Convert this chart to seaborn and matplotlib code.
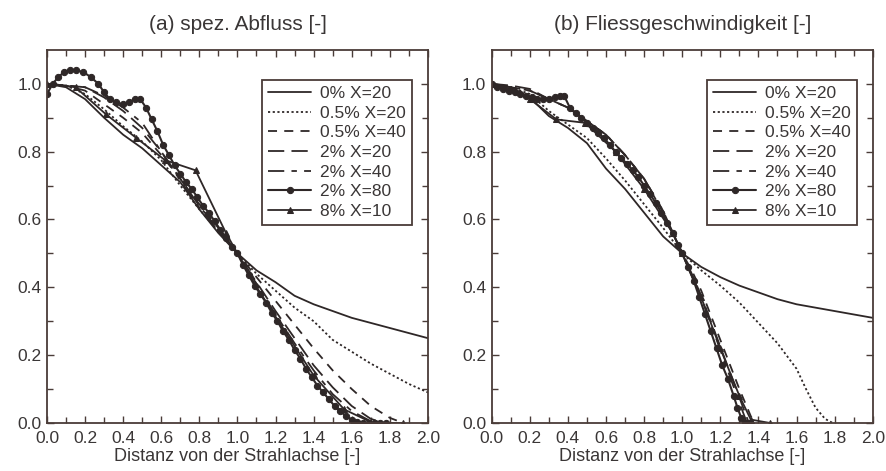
import matplotlib
matplotlib.use("Agg")
import matplotlib.pyplot as plt
import seaborn as sns
import numpy as np

sns.set_style("ticks")
plt.rcParams['font.family'] = ['Liberation Sans', 'DejaVu Sans']

labels = ["0% X=20", "0.5% X=20", "0.5% X=40", "2% X=20", "2% X=40", "2% X=80", "8% X=10"]
titles = ["(a) spez. Abfluss [-]", "(b) Fliessgeschwindigkeit [-]"]
xlabel = "Distanz von der Strahlachse [-]"
xticks = [0.0, 0.2, 0.4, 0.6, 0.8, 1.0, 1.2, 1.4, 1.6, 1.8, 2.0]
yticks = [0.0, 0.2, 0.4, 0.6, 0.8, 1.0]

# ---------------- panel (a) ----------------
a_s0_x = [0.0, 0.1, 0.2, 0.3, 0.4, 0.5, 0.6, 0.7, 0.8, 0.9, 1.0, 1.1, 1.2, 1.3, 1.4, 1.5, 1.6, 1.7, 1.8, 1.9, 2.0]
a_s0_y = [1.0, 0.99, 0.955, 0.9, 0.85, 0.81, 0.76, 0.71, 0.63, 0.56, 0.5, 0.45, 0.415, 0.375, 0.35, 0.33, 0.31, 0.295, 0.28, 0.265, 0.25]
a_s1_x = [0.0, 0.1, 0.2, 0.3, 0.4, 0.5, 0.6, 0.7, 0.8, 0.9, 1.0, 1.1, 1.2, 1.3, 1.4, 1.5, 1.6, 1.7, 1.8, 1.9, 2.0]
a_s1_y = [1.0, 0.995, 0.97, 0.925, 0.875, 0.83, 0.775, 0.7, 0.63, 0.565, 0.5, 0.44, 0.39, 0.34, 0.3, 0.245, 0.21, 0.175, 0.145, 0.115, 0.09]
a_s2_x = [0.0, 0.1, 0.2, 0.3, 0.4, 0.5, 0.6, 0.7, 0.8, 0.9, 1.0, 1.1, 1.2, 1.3, 1.4, 1.5, 1.6, 1.7, 1.8, 1.87]
a_s2_y = [1.0, 0.995, 0.98, 0.94, 0.9, 0.855, 0.79, 0.72, 0.645, 0.575, 0.5, 0.43, 0.36, 0.29, 0.22, 0.155, 0.1, 0.05, 0.015, 0.0]
a_s3_x = [0.0, 0.1, 0.2, 0.3, 0.4, 0.5, 0.6, 0.7, 0.8, 0.9, 1.0, 1.1, 1.2, 1.3, 1.4, 1.5, 1.6, 1.7, 1.77]
a_s3_y = [1.0, 0.995, 0.99, 0.96, 0.92, 0.87, 0.8, 0.72, 0.64, 0.57, 0.5, 0.415, 0.33, 0.25, 0.17, 0.105, 0.05, 0.012, 0.0]
a_s4_x = [0.0, 0.1, 0.2, 0.3, 0.4, 0.5, 0.6, 0.7, 0.8, 0.9, 1.0, 1.1, 1.2, 1.3, 1.4, 1.5, 1.6, 1.7, 1.74]
a_s4_y = [1.0, 0.995, 0.99, 0.965, 0.93, 0.885, 0.8, 0.715, 0.635, 0.565, 0.5, 0.41, 0.32, 0.235, 0.155, 0.085, 0.035, 0.005, 0.0]
a_s5_x = [0.0, 0.03, 0.06, 0.09, 0.12, 0.15, 0.19, 0.23, 0.27, 0.30, 0.33, 0.36, 0.40, 0.43, 0.46, 0.49, 0.52, 0.55, 0.58, 0.61,
          0.64, 0.67, 0.70, 0.73, 0.76, 0.79, 0.82, 0.85, 0.88, 0.91, 0.94, 0.97, 1.0, 1.03, 1.06, 1.09, 1.12, 1.15, 1.18, 1.21,
          1.24, 1.27, 1.30, 1.33, 1.36, 1.39, 1.42, 1.45, 1.48, 1.51, 1.54, 1.57, 1.60, 1.63, 1.66, 1.69, 1.72, 1.75, 1.78]
a_s5_y = [0.97, 1.0, 1.02, 1.035, 1.04, 1.04, 1.035, 1.02, 1.0, 0.975, 0.955, 0.945, 0.94, 0.945, 0.955, 0.955, 0.93, 0.895, 0.86, 0.82,
          0.79, 0.76, 0.735, 0.71, 0.69, 0.665, 0.64, 0.62, 0.595, 0.57, 0.545, 0.52, 0.5, 0.465, 0.435, 0.405, 0.38, 0.355, 0.325, 0.3,
          0.27, 0.245, 0.215, 0.19, 0.16, 0.135, 0.11, 0.09, 0.07, 0.05, 0.035, 0.02, 0.01, 0.003, 0.0, 0.0, 0.0, 0.0, 0.0]
a_s6_x = [0.0, 0.15, 0.31, 0.47, 0.62, 0.78, 0.94, 1.09, 1.25, 1.40, 1.56, 1.71, 1.87]
a_s6_y = [1.0, 0.99, 0.91, 0.84, 0.775, 0.745, 0.56, 0.41, 0.27, 0.14, 0.04, 0.0, 0.0]

# ---------------- panel (b) ----------------
b_s0_x = [0.0, 0.1, 0.2, 0.3, 0.4, 0.5, 0.6, 0.7, 0.8, 0.9, 1.0, 1.1, 1.2, 1.3, 1.4, 1.5, 1.6, 1.7, 1.8, 1.9, 2.0]
b_s0_y = [1.0, 0.99, 0.96, 0.905, 0.87, 0.825, 0.75, 0.69, 0.62, 0.55, 0.5, 0.46, 0.43, 0.405, 0.385, 0.365, 0.35, 0.34, 0.33, 0.32, 0.31]
b_s1_x = [0.0, 0.1, 0.2, 0.3, 0.4, 0.5, 0.6, 0.7, 0.8, 0.9, 1.0, 1.1, 1.2, 1.3, 1.4, 1.5, 1.6, 1.65, 1.7, 1.75, 1.79]
b_s1_y = [1.0, 0.99, 0.97, 0.92, 0.88, 0.84, 0.78, 0.715, 0.645, 0.575, 0.5, 0.45, 0.405, 0.355, 0.295, 0.235, 0.16, 0.1, 0.045, 0.012, 0.0]
b_s2_x = [0.0, 0.1, 0.2, 0.3, 0.4, 0.5, 0.6, 0.7, 0.8, 0.9, 1.0, 1.05, 1.1, 1.2, 1.3, 1.36, 1.38]
b_s2_y = [1.0, 0.99, 0.98, 0.955, 0.93, 0.89, 0.85, 0.79, 0.72, 0.625, 0.5, 0.45, 0.39, 0.245, 0.1, 0.02, 0.0]
b_s3_x = [0.0, 0.1, 0.2, 0.3, 0.4, 0.5, 0.6, 0.7, 0.8, 0.9, 1.0, 1.05, 1.1, 1.2, 1.3, 1.35]
b_s3_y = [1.0, 0.995, 0.985, 0.955, 0.93, 0.89, 0.85, 0.79, 0.72, 0.625, 0.5, 0.44, 0.375, 0.225, 0.075, 0.0]
b_s4_x = [0.0, 0.1, 0.2, 0.3, 0.4, 0.5, 0.6, 0.7, 0.8, 0.9, 1.0, 1.05, 1.1, 1.2, 1.3, 1.34]
b_s4_y = [1.0, 0.99, 0.98, 0.955, 0.93, 0.89, 0.85, 0.79, 0.72, 0.62, 0.5, 0.435, 0.37, 0.215, 0.06, 0.0]
b_s5_x = [0.0, 0.03, 0.06, 0.09, 0.12, 0.15, 0.18, 0.21, 0.24, 0.27, 0.30, 0.33, 0.36, 0.38, 0.41, 0.44, 0.47, 0.50, 0.53, 0.56,
          0.59, 0.62, 0.65, 0.68, 0.71, 0.74, 0.77, 0.80, 0.83, 0.86, 0.89, 0.92, 0.95, 0.98, 1.0, 1.03, 1.06, 1.09, 1.12, 1.15,
          1.18, 1.21, 1.24, 1.27, 1.29, 1.31, 1.33, 1.35]
b_s5_y = [1.0, 0.99, 0.985, 0.98, 0.975, 0.97, 0.965, 0.96, 0.955, 0.955, 0.955, 0.96, 0.965, 0.965, 0.93, 0.915, 0.9, 0.885, 0.87, 0.855,
          0.84, 0.82, 0.8, 0.78, 0.765, 0.745, 0.725, 0.7, 0.675, 0.65, 0.62, 0.59, 0.56, 0.525, 0.5, 0.46, 0.42, 0.37, 0.32, 0.27,
          0.22, 0.17, 0.13, 0.08, 0.045, 0.015, 0.0, 0.0]
b_s6_x = [0.0, 0.1, 0.2, 0.34, 0.49, 0.65, 0.8, 0.95, 1.0, 1.1, 1.2, 1.3, 1.36, 1.46]
b_s6_y = [1.0, 0.985, 0.955, 0.895, 0.885, 0.8, 0.69, 0.56, 0.5, 0.37, 0.22, 0.08, 0.01, 0.0]

panel_a = [(a_s0_x, a_s0_y), (a_s1_x, a_s1_y), (a_s2_x, a_s2_y), (a_s3_x, a_s3_y),
           (a_s4_x, a_s4_y), (a_s5_x, a_s5_y), (a_s6_x, a_s6_y)]
panel_b = [(b_s0_x, b_s0_y), (b_s1_x, b_s1_y), (b_s2_x, b_s2_y), (b_s3_x, b_s3_y),
           (b_s4_x, b_s4_y), (b_s5_x, b_s5_y), (b_s6_x, b_s6_y)]

line_col = '#2e2727'
frame_col = '#4a3c38'
text_col = '#3a3636'
styles = [
    dict(linestyle='-', marker=None, lw=1.3),
    dict(linestyle=(0, (1.2, 1.4)), marker=None, lw=1.3),
    dict(linestyle=(0, (5, 4)), marker=None, lw=1.3),
    dict(linestyle=(0, (9, 4)), marker=None, lw=1.3),
    dict(linestyle=(0, (9, 4, 3, 4)), marker=None, lw=1.3),
    dict(linestyle='-', marker='o', lw=1.5, ms=4.5),
    dict(linestyle='-', marker='^', lw=1.3, ms=4.5),
]

fig = plt.figure(figsize=(8.86, 4.71), dpi=100)
ax_a = fig.add_axes([0.053, 0.102, 0.430, 0.792])
ax_b = fig.add_axes([0.555, 0.102, 0.430, 0.792])

for ax, data, title in [(ax_a, panel_a, titles[0]), (ax_b, panel_b, titles[1])]:
    for (xs, ys), lab, st in zip(data, labels, styles):
        kw = dict(x=xs, y=ys, ax=ax, color=line_col, label=lab, sort=False,
                  estimator=None, linewidth=st['lw'], linestyle=st['linestyle'])
        if st['marker']:
            kw.update(marker=st['marker'], markersize=st['ms'],
                      markeredgecolor=line_col, markerfacecolor=line_col)
        sns.lineplot(**kw)
    ax.set_xlim(0, 2.0)
    ax.set_ylim(0, 1.1)
    ax.set_xticks(xticks)
    ax.set_yticks(yticks)
    ax.set_xticklabels([f"{v:.1f}" for v in xticks])
    ax.set_yticklabels([f"{v:.1f}" for v in yticks])
    ax.set_xticks(np.arange(0.1, 2.0, 0.2), minor=True)
    ax.set_yticks(np.arange(0.1, 1.1, 0.2), minor=True)
    ax.tick_params(which='both', direction='in', top=True, right=True,
                   color=frame_col, labelcolor=text_col, labelsize=12.5)
    ax.tick_params(axis='x', which='both', pad=6)
    ax.tick_params(axis='y', which='both', pad=4)
    ax.tick_params(which='major', length=5, width=1)
    ax.tick_params(which='minor', length=4, width=1)
    for sp in ax.spines.values():
        sp.set_color(frame_col)
        sp.set_linewidth(1.3)
    ax.set_title(title, fontsize=15, color=text_col, pad=14)
    ax.set_xlabel(xlabel, fontsize=13, color=text_col, labelpad=1)
    ax.set_ylabel("")
    leg = ax.legend(loc='upper right', bbox_to_anchor=(0.958, 0.92), fontsize=12.5,
                    frameon=True, fancybox=False, handlelength=2.5, handletextpad=0.5,
                    labelspacing=0.26, borderpad=0.35, labelcolor=text_col,
                    borderaxespad=0)
    leg.get_frame().set_edgecolor(frame_col)
    leg.get_frame().set_linewidth(1.3)
    leg.get_frame().set_alpha(1)

fig.savefig("out.png", dpi=100)
